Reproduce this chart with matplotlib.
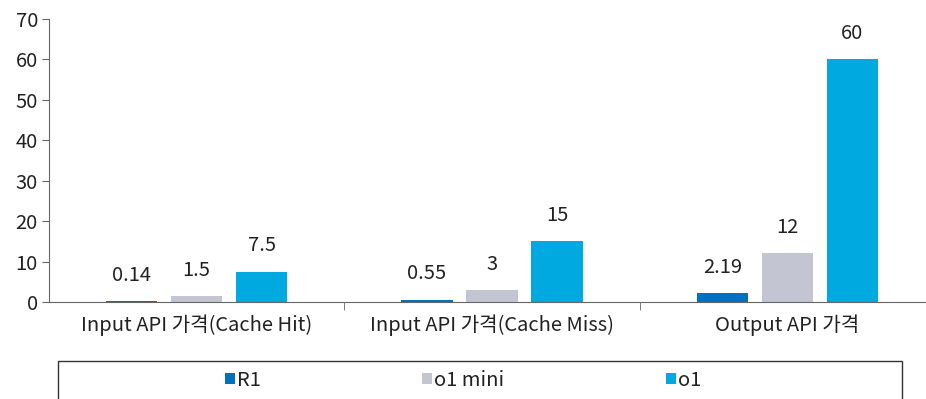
import numpy as np
import matplotlib.pyplot as plt
from matplotlib.patches import Rectangle

plt.rcParams['font.family'] = ['Noto Sans CJK KR', 'DejaVu Sans']

categories = ["Input API 가격(Cache Hit)", "Input API 가격(Cache Miss)", "Output API 가격"]
models = ["R1", "o1 mini", "o1"]
r1 = [0.14, 0.55, 2.19]
o1_mini = [1.5, 3, 12]
o1 = [7.5, 15, 60]
labels = [["0.14", "0.55", "2.19"], ["1.5", "3", "12"], ["7.5", "15", "60"]]

colors = ["#0070C0", "#C3C6D2", "#00A9E0"]
txt = "#222222"
fs = 14.5

fig = plt.figure(figsize=(9.26, 3.99), dpi=100)
ax = fig.add_axes([49 / 926, 1 - 302 / 399, 886 / 926, (302 - 19) / 399])

x = np.arange(len(categories))
w = 0.173
off = 0.22
for i, (vals, c) in enumerate(zip([r1, o1_mini, o1], colors)):
    bars = ax.bar(x + (i - 1) * off, vals, w, color=c, label=models[i])
    for b, lab in zip(bars, labels[i]):
        ax.annotate(lab, (b.get_x() + b.get_width() / 2, b.get_height()),
                    xytext=(0, 11), textcoords='offset points',
                    ha='center', va='bottom', fontsize=fs, color=txt)

ax.set_xlim(-0.5, 2.5)
ax.set_ylim(0, 70)
ax.set_yticks(range(0, 71, 10))
ax.set_xticks(x)
ax.set_xticklabels(categories)
ax.set_xticks([0.5, 1.5], minor=True)
ax.tick_params(axis='x', which='major', length=0, pad=9, labelsize=fs, labelcolor=txt)
ax.tick_params(axis='x', which='minor', length=6, direction='out', color='#666666')
ax.tick_params(axis='y', length=5, direction='out', color='#666666', labelsize=fs, labelcolor=txt, pad=3)
for s in ['top', 'right']:
    ax.spines[s].set_visible(False)
for s in ['left', 'bottom']:
    ax.spines[s].set_color('#666666')

# legend box, cut off at the bottom like the reference
fig.patches.append(Rectangle((58 / 926, -0.05), (902 - 58) / 926, 0.05 + 1 - 361 / 399,
                             transform=fig.transFigure, fill=False, edgecolor='#333333', lw=1))
fig.legend(loc='center', bbox_to_anchor=(0.5, 1 - 380 / 399), ncol=3, frameon=False,
           fontsize=fs, handlelength=0.5, handleheight=0.5, handletextpad=0.12,
           columnspacing=8.0, labelcolor=txt)

fig.savefig('out.png', dpi=100)
